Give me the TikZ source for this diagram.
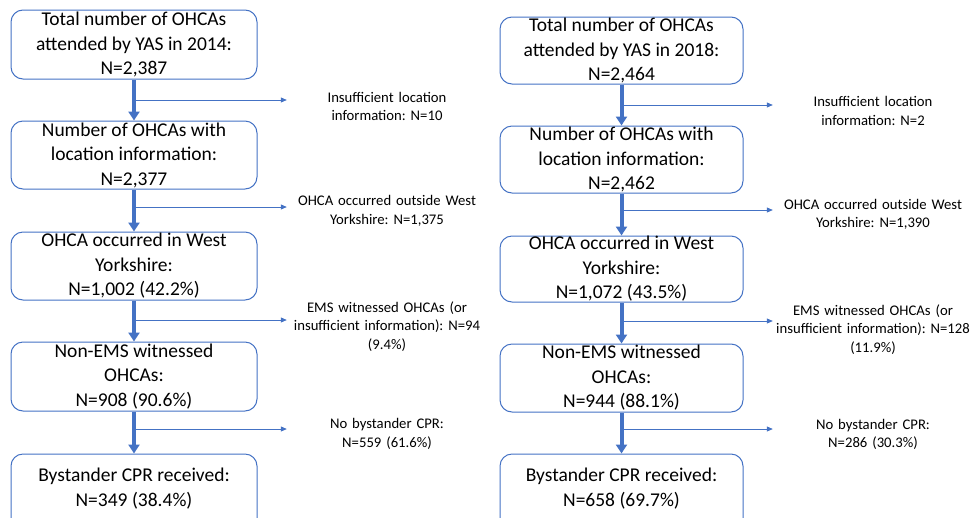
\documentclass[tikz,border=0pt]{standalone}
\usepackage{fontspec}
\setmainfont{Carlito}
\usetikzlibrary{arrows.meta}
\definecolor{obl}{HTML}{4472C4}
\frenchspacing
\tikzset{
  box/.style={draw=obl, line width=1pt, rounded corners=12pt, align=center, inner sep=0pt,
    font=\fontsize{19.5}{24.5}\selectfont, text=black},
  side/.style={align=center, text width=200pt, inner sep=0pt, font=\fontsize{14.7}{18.5}\selectfont, text=black},
  main/.style={draw=obl, line width=4pt, -{Triangle[length=9pt,width=11pt]}, shorten >=0pt},
  branch/.style={draw=obl, line width=0.8pt, -{Triangle[length=6pt,width=5pt]}}
}
\begin{document}
\begin{tikzpicture}[x=1pt,y=-1pt]
\useasboundingbox (0,0) rectangle (971,517);
\clip (0,0) rectangle (971,517);
% ---------- left (2014) ----------
\node[box, minimum width=246pt, minimum height=69pt] (L1) at (134,44.5) {Total number of OHCAs\\attended by YAS in 2014:\\N=2,387};
\node[box, minimum width=246pt, minimum height=68pt] (L2) at (134,155) {Number of OHCAs with\\location information:\\N=2,377};
\node[box, minimum width=246pt, minimum height=68pt] (L3) at (134,266) {OHCA occurred in West\\Yorkshire:\\N=1,002 (42.2\%)};
\node[box, minimum width=246pt, minimum height=69pt] (L4) at (134,376.5) {Non-EMS witnessed\\OHCAs:\\N=908 (90.6\%)};
\node[box, minimum width=246pt, minimum height=78pt] (L5) at (134,493) {};
\node[box, draw=none] (L5t) at (134,488.5) {Bystander CPR received:\\N=349 (38.4\%)};

\node[side] (LS1) at (387,106.5) {Insufficient location\\information: N=10};
\node[side] (LS2) at (387,211) {OHCA occurred outside West\\Yorkshire: N=1,375};
\node[side] (LS3) at (387,326.5) {EMS witnessed OHCAs (or\\insufficient information): N=94\\(9.4\%)};
\node[side] (LS4) at (387,434) {No bystander CPR:\\N=559 (61.6\%)};

\draw[main] (L1.south) -- (L2.north);
\draw[main] (L2.south) -- (L3.north);
\draw[main] (L3.south) -- (L4.north);
\draw[main] (L4.south) -- (L5.north);

\coordinate (lb1) at (134,100);
\coordinate (lb2) at (134,207);
\coordinate (lb3) at (134,320);
\coordinate (lb4) at (134,429);
\draw[branch] (lb1) -- (lb1 -| LS1.west);
\draw[branch] (lb2) -- (lb2 -| LS2.west);
\draw[branch] (lb3) -- (lb3 -| LS3.west);
\draw[branch] (lb4) -- (lb4 -| LS4.west);

% ---------- right (2018) ----------
\node[box, minimum width=243pt, minimum height=67pt] (R1) at (621.5,50.5) {Total number of OHCAs\\attended by YAS in 2018:\\N=2,464};
\node[box, minimum width=243pt, minimum height=67pt] (R2) at (621.5,159.5) {Number of OHCAs with\\location information:\\N=2,462};
\node[box, minimum width=243pt, minimum height=66pt] (R3) at (621.5,269) {OHCA occurred in West\\Yorkshire:\\N=1,072 (43.5\%)};
\node[box, minimum width=243pt, minimum height=68pt] (R4) at (621.5,378) {Non-EMS witnessed\\OHCAs:\\N=944 (88.1\%)};
\node[box, minimum width=243pt, minimum height=78pt] (R5) at (621.5,493) {};
\node[box, draw=none] (R5t) at (621.5,488.5) {Bystander CPR received:\\N=658 (69.7\%)};

\node[side] (RS1) at (873,111) {Insufficient location\\information: N=2};
\node[side] (RS2) at (873,214.5) {OHCA occurred outside West\\Yorkshire: N=1,390};
\node[side] (RS3) at (873,329.5) {EMS witnessed OHCAs (or\\insufficient information): N=128\\(11.9\%)};
\node[side] (RS4) at (873,434.5) {No bystander CPR:\\N=286 (30.3\%)};

\draw[main] (R1.south) -- (R2.north);
\draw[main] (R2.south) -- (R3.north);
\draw[main] (R3.south) -- (R4.north);
\draw[main] (R4.south) -- (R5.north);

\coordinate (rb1) at (621.5,105);
\coordinate (rb2) at (621.5,210);
\coordinate (rb3) at (621.5,321);
\coordinate (rb4) at (621.5,429);
\draw[branch] (rb1) -- (rb1 -| RS1.west);
\draw[branch] (rb2) -- (rb2 -| RS2.west);
\draw[branch] (rb3) -- (rb3 -| RS3.west);
\draw[branch] (rb4) -- (rb4 -| RS4.west);
\end{tikzpicture}
\end{document}
